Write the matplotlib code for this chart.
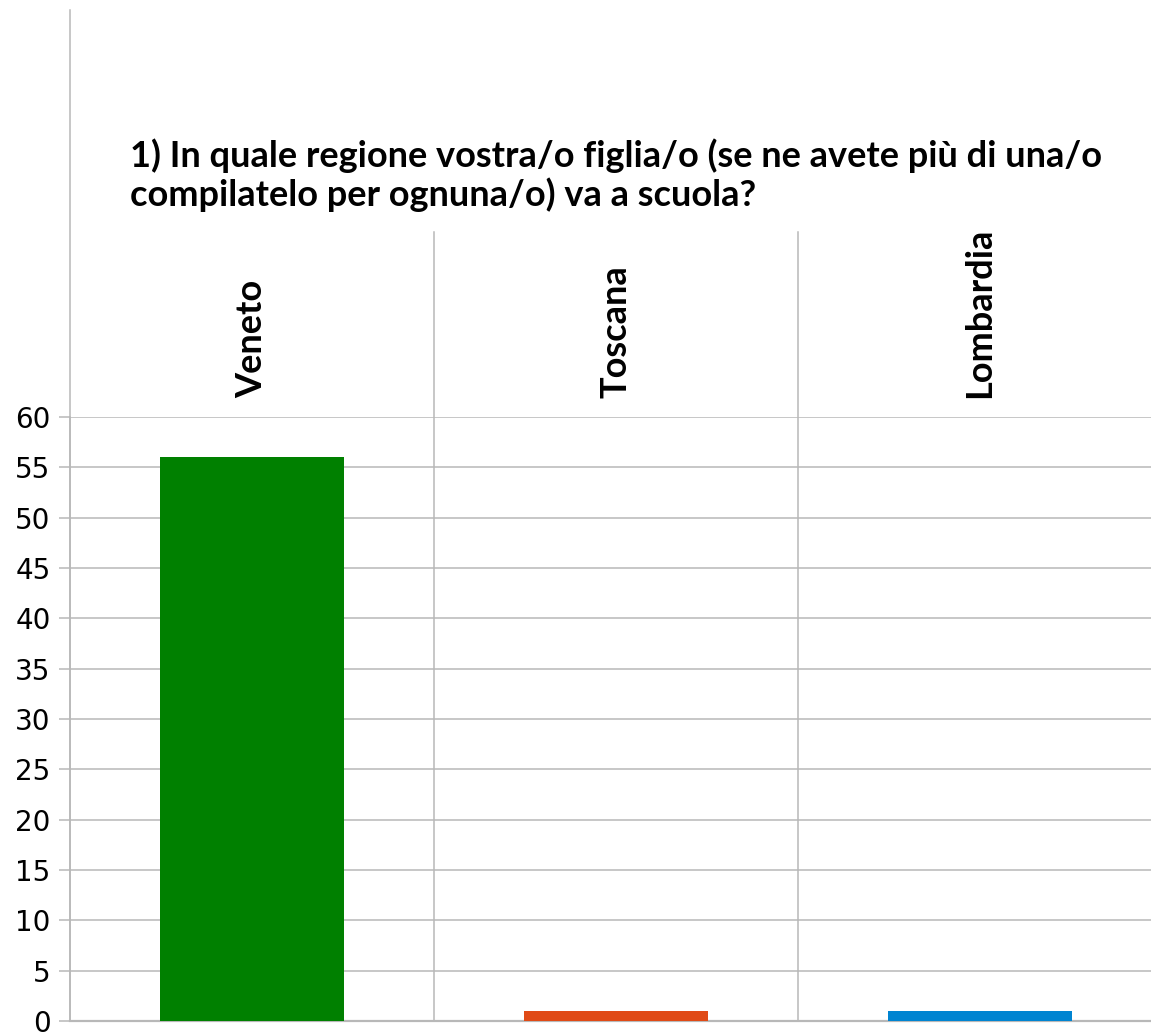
import matplotlib
matplotlib.use("Agg")
import matplotlib.pyplot as plt
import matplotlib.transforms as mtransforms

# Survey answers: region where the child goes to school
regions = ["Veneto", "Toscana", "Lombardia"]
counts = [56, 1, 1]
colors = ["#008000", "#e04a16", "#0084d1"]
yticks = list(range(0, 61, 5))
title = ("1) In quale regione vostra/o figlia/o (se ne avete più di una/o\n"
         "compilatelo per ognuna/o) va a scuola?")

grid_color = "#b8b8b8"
W, H = 1151, 1035

fig = plt.figure(figsize=(W / 100, H / 100), dpi=100)
# plot area runs a bit past the right edge of the figure
ax = fig.add_axes([70 / W, 1 - 1021 / H, (1162 - 70) / W, (1021 - 417) / H])

x = list(range(len(regions)))
ax.bar(x, counts, width=0.503, color=colors, zorder=3)

ax.set_xlim(-0.5, len(regions) - 0.5)
ax.set_ylim(0, 60)
ax.set_yticks(yticks)
ax.yaxis.grid(True, color=grid_color, linewidth=1.1, zorder=0)
ax.tick_params(axis="y", length=8, width=1.1, color=grid_color,
               labelsize=20, pad=6)
ax.tick_params(axis="y", labelcolor="black")

# category names rotated above the plot
ax.xaxis.tick_top()
ax.set_xticks(x)
ax.set_xticklabels(regions, rotation=90, fontsize=26, fontfamily="Lato",
                   fontweight="bold")
ax.tick_params(axis="x", length=0, pad=14)

for side in ["top", "right", "bottom"]:
    ax.spines[side].set_visible(False)
ax.spines["left"].set_color(grid_color)
ax.spines["left"].set_linewidth(1.1)

# separators between categories reaching up into the label band
trans = mtransforms.blended_transform_factory(ax.transData, ax.transAxes)
top_sep = (1021 - 232) / (1021 - 417)
for b in [0.5, 1.5]:
    ax.plot([b, b], [0, top_sep], transform=trans, color=grid_color,
            linewidth=1.1, clip_on=False, zorder=1)
ax.plot([-0.5, -0.5], [0, (1021 - 10) / (1021 - 417)], transform=trans,
        color=grid_color, linewidth=1.1, clip_on=False, zorder=1)
ax.plot([-0.5, len(regions) - 0.5], [0, 0], transform=trans,
        color=grid_color, linewidth=1.6, clip_on=False, zorder=2)

fig.text(130 / W, 1 - 138 / H, title, fontsize=26, fontfamily="Lato",
         fontweight="bold", va="top", ha="left", linespacing=1.15)

fig.savefig("out.png", dpi=100)
